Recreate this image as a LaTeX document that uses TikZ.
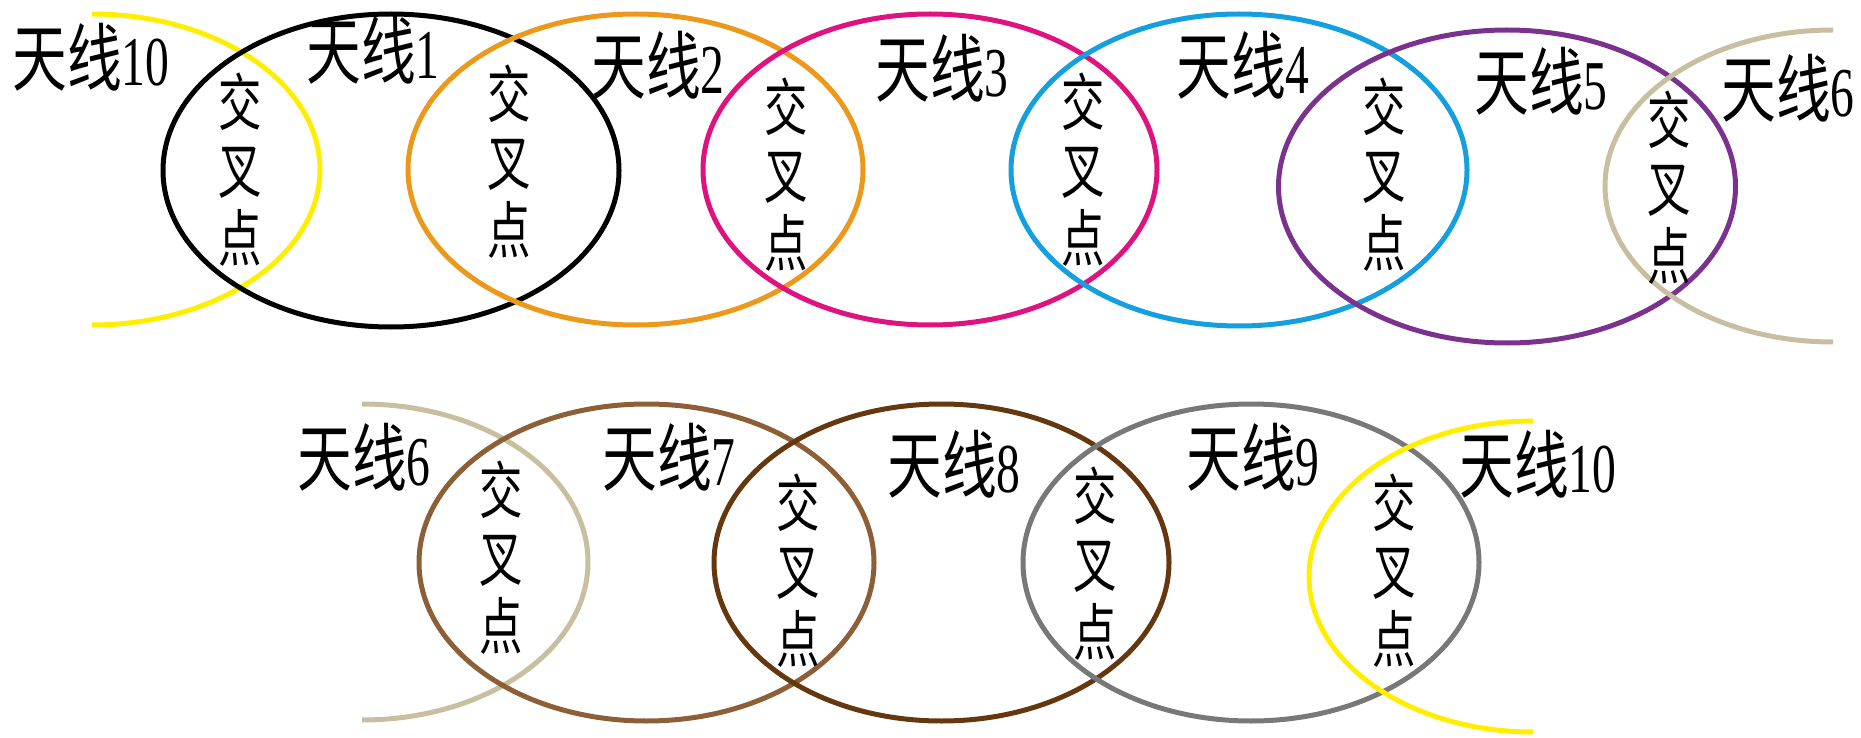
\documentclass[tikz,border=0pt]{standalone}
\usepackage{fontspec}
\setmainfont{Liberation Serif}
\newfontfamily\cjk{Noto Sans CJK SC}
\definecolor{cYellow}{RGB}{255,238,0}
\definecolor{cOrange}{RGB}{236,152,26}
\definecolor{cMagenta}{RGB}{222,19,127}
\definecolor{cBlue}{RGB}{20,160,222}
\definecolor{cPurple}{RGB}{122,50,142}
\definecolor{cBeige}{RGB}{200,190,160}
\definecolor{cBrownA}{RGB}{140,95,55}
\definecolor{cBrownB}{RGB}{100,55,15}
\definecolor{cGray}{RGB}{120,120,120}
\newcommand\myant[1]{\scalebox{0.74}[1]{\cjk\fontsize{74}{80}\selectfont 天线}\scalebox{0.68}[1]{\fontsize{70}{74}\selectfont #1}}
\tikzset{
  ring/.style={line width=5pt},
  antlabel/.style={anchor=base, inner sep=0pt},
  crosslabel/.style={anchor=center, inner sep=0pt, xscale=0.7, align=center, font=\cjk\fontsize{62}{68}\selectfont}
}
\begin{document}
\begin{tikzpicture}[x=1pt,y=-1pt]
\useasboundingbox (0,0) rectangle (1861,738);
% ---- top row ----
\draw[ring,cYellow] (92,14) arc[start angle=-90,end angle=90,x radius=228,y radius=155.5];
\draw[ring,black] (391,170.5) ellipse[x radius=228,y radius=156.5];
\draw[ring,cOrange] (635.5,169.5) ellipse[x radius=227.5,y radius=155.5];
\draw[ring,cMagenta] (930,169.5) ellipse[x radius=227,y radius=155.5];
\draw[ring,cBlue] (1239,170) ellipse[x radius=228,y radius=156];
\draw[ring,cPurple] (1507,186.5) ellipse[x radius=228.5,y radius=156.5];
\draw[ring,cBeige] (1833,30) arc[start angle=270,end angle=90,x radius=228,y radius=156];
% ---- bottom row ----
\draw[ring,cBeige] (362,404) arc[start angle=-90,end angle=90,x radius=226,y radius=158];
\draw[ring,cBrownA] (646.5,562.5) ellipse[x radius=227.5,y radius=158.5];
\draw[ring,cBrownB] (941.5,562.5) ellipse[x radius=227.5,y radius=158.5];
\draw[ring,cGray] (1251,562.5) ellipse[x radius=228,y radius=158.5];
\draw[ring,cYellow] (1533,421) arc[start angle=270,end angle=90,x radius=224,y radius=155.5];
% ---- antenna labels ----
\node[antlabel] (t10) at (91,86) {\myant{10}};
\node[antlabel] (t1) at (373,79) {\myant{1}};
\node[antlabel] (t2) at (658,94) {\myant{2}};
\node[antlabel] (t3) at (942,97) {\myant{3}};
\node[antlabel] (t4) at (1243,94) {\myant{4}};
\node[antlabel] (t5) at (1541,110) {\myant{5}};
\node[antlabel] (t6) at (1788,117) {\myant{6}};
\node[antlabel] (b6) at (364,485) {\myant{6}};
\node[antlabel] (b7) at (669,485) {\myant{7}};
\node[antlabel] (b8) at (954,492) {\myant{8}};
\node[antlabel] (b9) at (1253,485) {\myant{9}};
\node[antlabel] (b10) at (1538,492) {\myant{10}};
% ---- crossing labels ----
\node[crosslabel] (xa) at (240,170) {交\\叉\\点};
\node[crosslabel] (xb) at (509,162) {交\\叉\\点};
\node[crosslabel] (xc) at (786,175) {交\\叉\\点};
\node[crosslabel] (xd) at (1083,170) {交\\叉\\点};
\node[crosslabel] (xe) at (1384,175) {交\\叉\\点};
\node[crosslabel] (xf) at (1669,188) {交\\叉\\点};
\node[crosslabel] (xg) at (501,558) {交\\叉\\点};
\node[crosslabel] (xh) at (798,571) {交\\叉\\点};
\node[crosslabel] (xi) at (1095,564) {交\\叉\\点};
\node[crosslabel] (xj) at (1394,571) {交\\叉\\点};
\end{tikzpicture}
\end{document}
